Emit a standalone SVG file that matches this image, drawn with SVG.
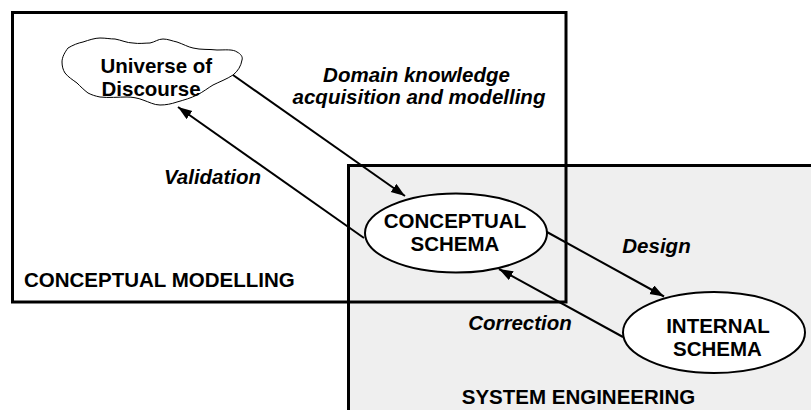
<svg xmlns="http://www.w3.org/2000/svg" width="811" height="410" viewBox="0 0 811 410">
<defs>
<style>
text{font-family:"Liberation Sans",Arial,Helvetica,sans-serif;font-weight:bold;font-size:20.5px;fill:#000}
.it{font-style:italic}
.mid{text-anchor:middle}
.box{fill:none;stroke:#000;stroke-width:3}
.node{fill:#fff;stroke:#000;stroke-width:2}
.conn{stroke:#000;stroke-width:2;fill:none}
</style>
<marker id="ah" markerUnits="userSpaceOnUse" markerWidth="16" markerHeight="12" refX="14" refY="5" orient="auto">
<path d="M0,0 L14,5 L0,10 z" fill="#000"/>
</marker>
</defs>
<rect width="811" height="410" fill="#fff"/>
<g id="conceptual-modelling">
<rect x="12.5" y="12.5" width="553.5" height="289.5" fill="#fff"/>
</g>
<g id="system-engineering">
<rect x="348.5" y="165.5" width="480" height="260" fill="#efefef"/>
<rect class="box" x="348.5" y="165.5" width="480" height="260"/>
<text class="mid" x="578.5" y="404">SYSTEM ENGINEERING</text>
</g>
<g id="conceptual-modelling-frame">
<rect class="box" x="12.5" y="12.5" width="553.5" height="289.5"/>
<text x="24" y="287">CONCEPTUAL MODELLING</text>
</g>
<g id="connectors">
<line class="conn" x1="233" y1="75" x2="405" y2="196" marker-end="url(#ah)"/>
<line class="conn" x1="364" y1="238" x2="178" y2="107" marker-end="url(#ah)"/>
<line class="conn" x1="546" y1="231.5" x2="664" y2="296.5" marker-end="url(#ah)"/>
<line class="conn" x1="623" y1="337" x2="499" y2="269" marker-end="url(#ah)"/>
<text class="it mid" x="416.5" y="81.5">Domain knowledge</text>
<text class="it mid" x="419" y="103.5">acquisition and modelling</text>
<text class="it mid" x="212.5" y="183.5">Validation</text>
<text class="it mid" x="656.5" y="253">Design</text>
<text class="it mid" x="520" y="330">Correction</text>
</g>
<g id="universe-of-discourse">
<path d="M68,48 C73,45 78,43 83,42 C89,40 95,38 100,38 C106,38 110,39 115,39 C121,40 127,43 133,43 C139,44 145,43 150,43 C155,42 158,39 163,39 C168,39 172,41 177,42 C183,44 188,47 193,48 C201,50 209,49 217,50 C225,50 233,49 237,52 C241,54 243,57 242,60 C241,66 238,71 233,75 C227,79 219,82 213,85 C208,88 203,92 197,95 C191,98 184,100 177,102 C171,104 166,105 160,105 C154,105 149,102 143,100 C138,98 132,97 127,97 C118,97 109,98 100,97 C95,96 92,95 88,93 C84,90 80,86 77,83 C73,80 68,77 65,73 C63,70 62,66 62,62 C62,57 65,52 68,48 Z" fill="#fff" stroke="#000" stroke-width="1"/>
<text x="100.5" y="73">Universe of</text>
<text x="101.5" y="96">Discourse</text>
</g>
<g id="conceptual-schema">
<ellipse class="node" cx="456" cy="233" rx="91" ry="39.5"/>
<text class="mid" x="455" y="228">CONCEPTUAL</text>
<text class="mid" x="455" y="251">SCHEMA</text>
</g>
<g id="internal-schema">
<ellipse class="node" cx="714" cy="332.5" rx="91" ry="40.5"/>
<text class="mid" x="718" y="333">INTERNAL</text>
<text class="mid" x="717.5" y="355.5">SCHEMA</text>
</g>
</svg>
